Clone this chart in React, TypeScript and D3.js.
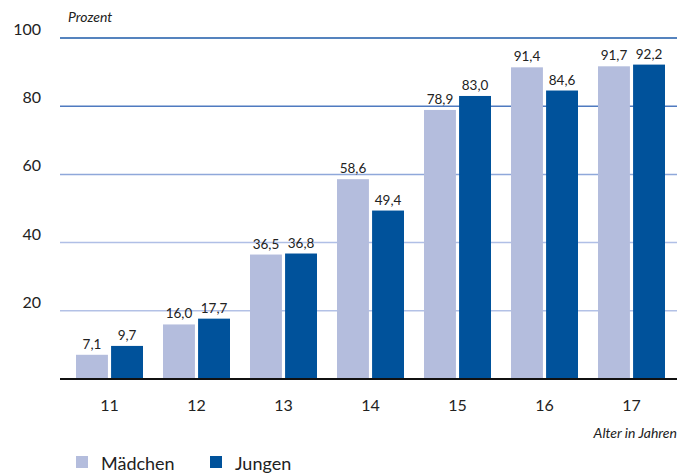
import React from "react";
import * as d3 from "d3";

const WIDTH = 692;
const HEIGHT = 476;
const MARGIN = { top: 38, right: 15, bottom: 97, left: 60 };

const ages = ["11", "12", "13", "14", "15", "16", "17"];
const series = ["Mädchen", "Jungen"];
const girls = [7.1, 16.0, 36.5, 58.6, 78.9, 91.4, 91.7];
const boys = [9.7, 17.7, 36.8, 49.4, 83.0, 84.6, 92.2];
const yTicks = [20, 40, 60, 80, 100];
const gridColors = ["#b3c1e6", "#b0bfe6", "#8fa8da", "#4f7ac0", "#1c5aa8"];

const COLORS: Record<string, string> = { "Mädchen": "#b4bddd", Jungen: "#00529b" };
const FONT = "Lato, 'Open Sans', sans-serif";

const fmt = (v: number) => v.toFixed(1).replace(".", ",");

const App = () => {
  const boundsBottom = HEIGHT - MARGIN.bottom;

  const yScale = d3.scaleLinear().domain([0, 100]).range([boundsBottom, MARGIN.top]);

  // groups per age
  const xScale = d3
    .scaleBand()
    .domain(ages)
    .range([66, 675])
    .paddingInner(0.23)
    .paddingOuter(0.115);

  const xSub = d3
    .scaleBand()
    .domain(series)
    .range([0, xScale.bandwidth()])
    .paddingInner(0.09);

  const values: Record<string, number[]> = { "Mädchen": girls, Jungen: boys };

  const grid = yTicks.map((t, i) => (
    <g key={t}>
      <line
        x1={MARGIN.left}
        x2={WIDTH - MARGIN.right}
        y1={yScale(t)}
        y2={yScale(t)}
        stroke={gridColors[i]}
        strokeWidth={1.5}
      />
      <text
        x={41}
        y={yScale(t) - 3}
        textAnchor="end"
        fontSize={16}
        fill="#222"
      >
        {t}
      </text>
    </g>
  ));

  const bars = ages.map((age, i) => (
    <g key={age} transform={`translate(${xScale(age)},0)`}>
      {series.map((s) => {
        const v = values[s][i];
        const x = xSub(s) ?? 0;
        return (
          <g key={s}>
            <rect
              x={x}
              y={yScale(v)}
              width={xSub.bandwidth()}
              height={boundsBottom - yScale(v)}
              fill={COLORS[s]}
            />
            <text
              x={x + xSub.bandwidth() / 2}
              y={yScale(v) - 6}
              textAnchor="middle"
              fontSize={13.5}
              fill="#222"
            >
              {fmt(v)}
            </text>
          </g>
        );
      })}
    </g>
  ));

  const xLabels = ages.map((age) => (
    <text
      key={age}
      x={(xScale(age) ?? 0) + xScale.bandwidth() / 2}
      y={411}
      textAnchor="middle"
      fontSize={16}
      fill="#222"
    >
      {age}
    </text>
  ));

  return (
    <svg width={WIDTH} height={HEIGHT} fontFamily={FONT} style={{ position: "absolute", left: 0, top: 0 }}>
      {grid}
      {bars}
      <line
        x1={MARGIN.left}
        x2={WIDTH - MARGIN.right}
        y1={boundsBottom}
        y2={boundsBottom}
        stroke="#111"
        strokeWidth={2}
      />
      {xLabels}
      <text x={68} y={22} fontSize={14} fontStyle="italic" fill="#222">
        Prozent
      </text>
      <text x={677} y={438} textAnchor="end" fontSize={14} fontStyle="italic" fill="#222">
        Alter in Jahren
      </text>
      <g>
        <rect x={76} y={456} width={12} height={12} fill={COLORS["Mädchen"]} />
        <text x={101} y={470} fontSize={18} fill="#222">Mädchen</text>
        <rect x={210} y={456} width={12} height={12} fill={COLORS["Jungen"]} />
        <text x={235} y={470} fontSize={18} fill="#222">Jungen</text>
      </g>
    </svg>
  );
};

export default App;
